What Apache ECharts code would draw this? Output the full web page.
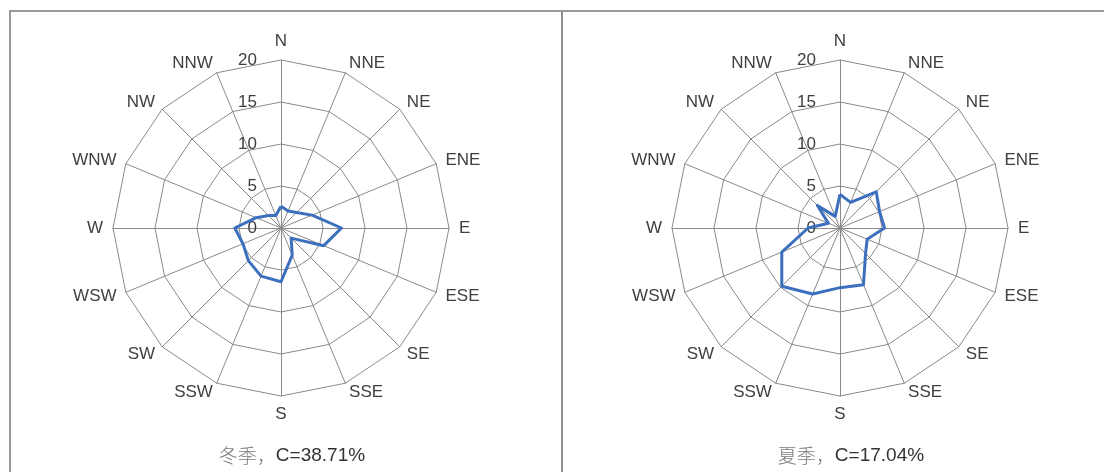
<!DOCTYPE html>
<html>
<head>
<meta charset="utf-8">
<script src="https://cdn.jsdelivr.net/npm/echarts@6/dist/echarts.min.js"></script>
<style>
  html, body { margin: 0; padding: 0; background: #fff; }
  #chart { width: 1104px; height: 472px; }
</style>
</head>
<body>
<div id="chart"></div>
<script>
// wind directions, clockwise from north
var directions = ['N', 'NNE', 'NE', 'ENE', 'E', 'ESE', 'SE', 'SSE',
                  'S', 'SSW', 'SW', 'WSW', 'W', 'WNW', 'NW', 'NNW'];
// frequency (%) per direction
var winterFreq = [2.6, 2.2, 2.6, 4.0, 7.2, 5.5, 1.7, 3.5, 6.4, 6.2, 5.5, 4.9, 5.5, 3.2, 2.1, 1.6];
var summerFreq = [4.0, 3.3, 6.1, 5.1, 5.3, 3.5, 4.3, 7.3, 7.1, 8.5, 9.8, 7.5, 3.8, 1.5, 3.8, 1.5];
var radiusTicks = [0, 5, 10, 15, 20];
var captions = ['冬季，', '夏季，'];
var calmRates = ['C=38.71%', 'C=17.04%'];

var maxVal = radiusTicks[radiusTicks.length - 1];
var step = radiusTicks[1] - radiusTicks[0];
var centers = [[281, 228], [840, 228]];
var R = 168;
var gridColor = '#8a8a8a';
var textColor = '#404040';
var latinFont = 'Liberation Sans';

// echarts radar runs counter-clockwise, so keep N first and flip the rest
function clockwise(arr) {
  return [arr[0]].concat(arr.slice(1).reverse());
}

var chart = echarts.init(document.getElementById('chart'), null, { renderer: 'canvas' });

var radars = centers.map(function (c) {
  return {
    center: c,
    radius: R,
    startAngle: 90,
    shape: 'polygon',
    splitNumber: radiusTicks.length - 1,
    indicator: clockwise(directions).map(function (d) { return { name: d, min: 0, max: maxVal }; }),
    axisName: { color: textColor, fontSize: 17, fontFamily: latinFont },
    nameGap: 10,
    axisLine: { lineStyle: { color: gridColor, width: 1 } },
    splitLine: { lineStyle: { color: gridColor, width: 1 } },
    splitArea: { show: false },
    axisTick: { show: false },
    axisLabel: { show: false }
  };
});

// polar overlays only used to print the 0..20 scale along the N axis
var polars = centers.map(function (c) { return { center: c, radius: R }; });
var angleAxes = centers.map(function (c, i) {
  return { polarIndex: i, type: 'value', startAngle: 90, show: false, min: 0, max: 360 };
});
var radiusAxes = centers.map(function (c, i) {
  return {
    polarIndex: i, type: 'value', min: 0, max: maxVal, interval: step,
    axisLine: { show: false }, axisTick: { show: false }, splitLine: { show: false },
    axisLabel: { color: textColor, fontSize: 17, fontFamily: latinFont, margin: 24 }
  };
});

var series = [winterFreq, summerFreq].map(function (vals, i) {
  return {
    type: 'radar',
    radarIndex: i,
    symbol: 'none',
    silent: true,
    lineStyle: { color: '#3c6fbe', width: 3 },
    data: [{ value: clockwise(vals) }]
  };
});

var titles = centers.map(function (c, i) {
  return {
    left: c[0] + 6,
    top: 441,
    textAlign: 'center',
    text: '{cn|' + captions[i] + '}{c|' + calmRates[i] + '}',
    textStyle: {
      rich: {
        cn: { fontFamily: 'Noto Sans CJK SC', fontSize: 19, color: '#7a7a7a', fontWeight: 300 },
        c: { fontFamily: latinFont, fontSize: 19, color: '#333', fontWeight: 'normal' }
      }
    }
  };
});

chart.setOption({
  animation: false,
  backgroundColor: '#fff',
  title: titles,
  radar: radars,
  polar: polars,
  angleAxis: angleAxes,
  radiusAxis: radiusAxes,
  series: series,
  graphic: [
    { type: 'polyline', silent: true,
      shape: { points: [[10, 480], [10, 11], [1104, 11]] },
      style: { stroke: '#9a9a9a', lineWidth: 2, fill: null } },
    { type: 'line', silent: true,
      shape: { x1: 562, y1: 11, x2: 562, y2: 480 },
      style: { stroke: '#8f8f8f', lineWidth: 2 } }
  ]
});
</script>
</body>
</html>
